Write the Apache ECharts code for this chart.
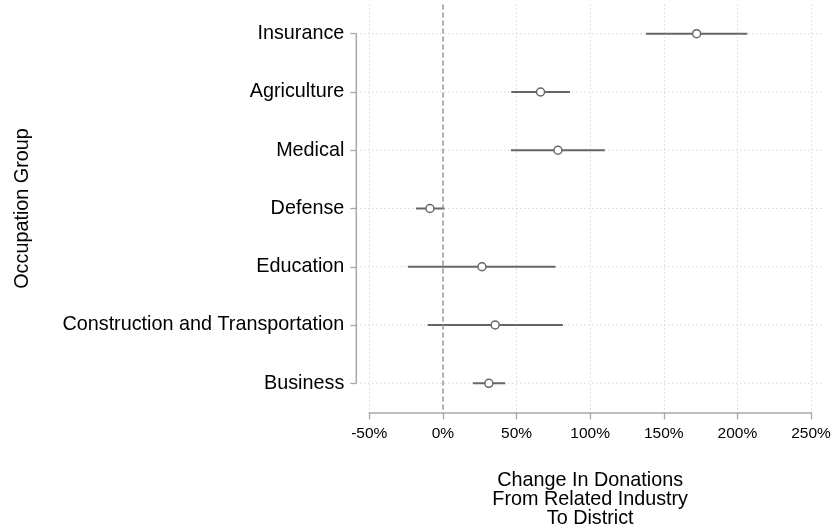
<!DOCTYPE html>
<html><head><meta charset="utf-8">
<script src="https://cdn.jsdelivr.net/npm/echarts@6/dist/echarts.min.js"></script>
<style>html,body{margin:0;padding:0;background:#fff}#c{width:832px;height:530px}</style>
</head><body><div id="c"></div>
<script>
// ---- data ----
const categories = ['Insurance', 'Agriculture', 'Medical', 'Defense', 'Education', 'Construction and Transportation', 'Business'];
const estimates = [172.3, 66.3, 78.1, -8.8, 26.5, 35.5, 31.2];
const ciLower = [137.9, 46.4, 46.2, -18.3, -23.8, -10.4, 20.4];
const ciUpper = [206.7, 86.3, 110.0, 1.1, 76.5, 81.5, 42.3];
const xMin = -50, xMax = 250, xStep = 50;
const xTitle = ['Change In Donations', 'From Related Industry', 'To District'];
const yTitle = 'Occupation Group';

// ---- style ----
const FONT = '"Liberation Sans", Arial, Helvetica, sans-serif';
const Y_OFFSET = 13;
const GRID_EXT_RIGHT = 12;
const AXIS_COLOR = '#a8a8a8';
const GRID_COLOR = '#c4c4c4';
const MARK_COLOR = '#666666';

const chart = echarts.init(document.getElementById('c'), null, {renderer: 'canvas'});

const catIdx = categories.map((c, i) => [i]);

const option = {
  animation: false,
  backgroundColor: '#fff',
  grid: {left: 369.3, right: 21, top: 4.6, bottom: 117.6, containLabel: false, outerBoundsMode: 'none'},
  xAxis: {
    type: 'value', min: xMin, max: xMax, interval: xStep,
    axisLine: {show: true, onZero: false, lineStyle: {color: AXIS_COLOR, width: 1.5}},
    axisTick: {show: true, length: 7, lineStyle: {color: AXIS_COLOR, width: 1.3}},
    axisLabel: {formatter: '{value}%', color: '#000', fontFamily: FONT, fontSize: 15.5, margin: 13},
    splitLine: {show: true, lineStyle: {color: GRID_COLOR, width: 1, type: [1, 3]}},
    name: xTitle.join('\n'), nameLocation: 'middle', nameGap: 58,
    nameTextStyle: {color: '#000', fontFamily: FONT, fontSize: 19.8, lineHeight: 19.4, align: 'center'}
  },
  yAxis: {
    type: 'category', data: categories, inverse: true, offset: Y_OFFSET,
    axisLine: {show: false, onZero: false},
    axisTick: {show: true, alignWithLabel: true, length: 6, lineStyle: {color: AXIS_COLOR, width: 1.3}},
    axisLabel: {color: '#000', fontFamily: FONT, fontSize: 19.8, margin: 12},
    splitLine: {show: false},
    name: yTitle, nameLocation: 'middle', nameGap: 324,
    nameTextStyle: {color: '#000', fontFamily: FONT, fontSize: 19.8}
  },
  series: [
    {
      type: 'custom', name: 'hgrid', clip: false, z: 1, silent: true,
      data: catIdx,
      renderItem: function (params, api) {
        const i = api.value(0);
        const a = api.coord([xMin, i]);
        const b = api.coord([xMax, i]);
        return {type: 'line', shape: {x1: a[0] - Y_OFFSET, y1: a[1], x2: b[0] + GRID_EXT_RIGHT, y2: b[1]},
          style: {stroke: GRID_COLOR, lineWidth: 1, lineDash: [1, 3]}};
      },
      markLine: {
        silent: true, symbol: ['none', 'none'], label: {show: false},
        lineStyle: {color: '#999', width: 1.5, type: [5, 3]},
        data: [{xAxis: 0}]
      }
    },
    {
      type: 'custom', name: 'yaxisline', clip: false, z: 2, silent: true,
      data: [[0]],
      renderItem: function (params, api) {
        const a = api.coord([xMin, 0]);
        const b = api.coord([xMin, categories.length - 1]);
        return {type: 'line', shape: {x1: a[0] - Y_OFFSET, y1: a[1], x2: b[0] - Y_OFFSET, y2: b[1]},
          style: {stroke: AXIS_COLOR, lineWidth: 1.5}};
      }
    },
    {
      type: 'custom', name: 'ci', z: 3, clip: false,
      data: categories.map((c, i) => [i, ciLower[i], ciUpper[i]]),
      renderItem: function (params, api) {
        const i = api.value(0);
        const a = api.coord([api.value(1), i]);
        const b = api.coord([api.value(2), i]);
        return {type: 'line', shape: {x1: a[0], y1: a[1], x2: b[0], y2: b[1]},
          style: {stroke: MARK_COLOR, lineWidth: 2}};
      }
    },
    {
      type: 'scatter', name: 'estimate', z: 4,
      symbol: 'circle', symbolSize: 8,
      itemStyle: {color: '#fff', borderColor: MARK_COLOR, borderWidth: 1.5, opacity: 1},
      data: categories.map((c, i) => [estimates[i], c])
    }
  ]
};
chart.setOption(option);
</script>
</body></html>
